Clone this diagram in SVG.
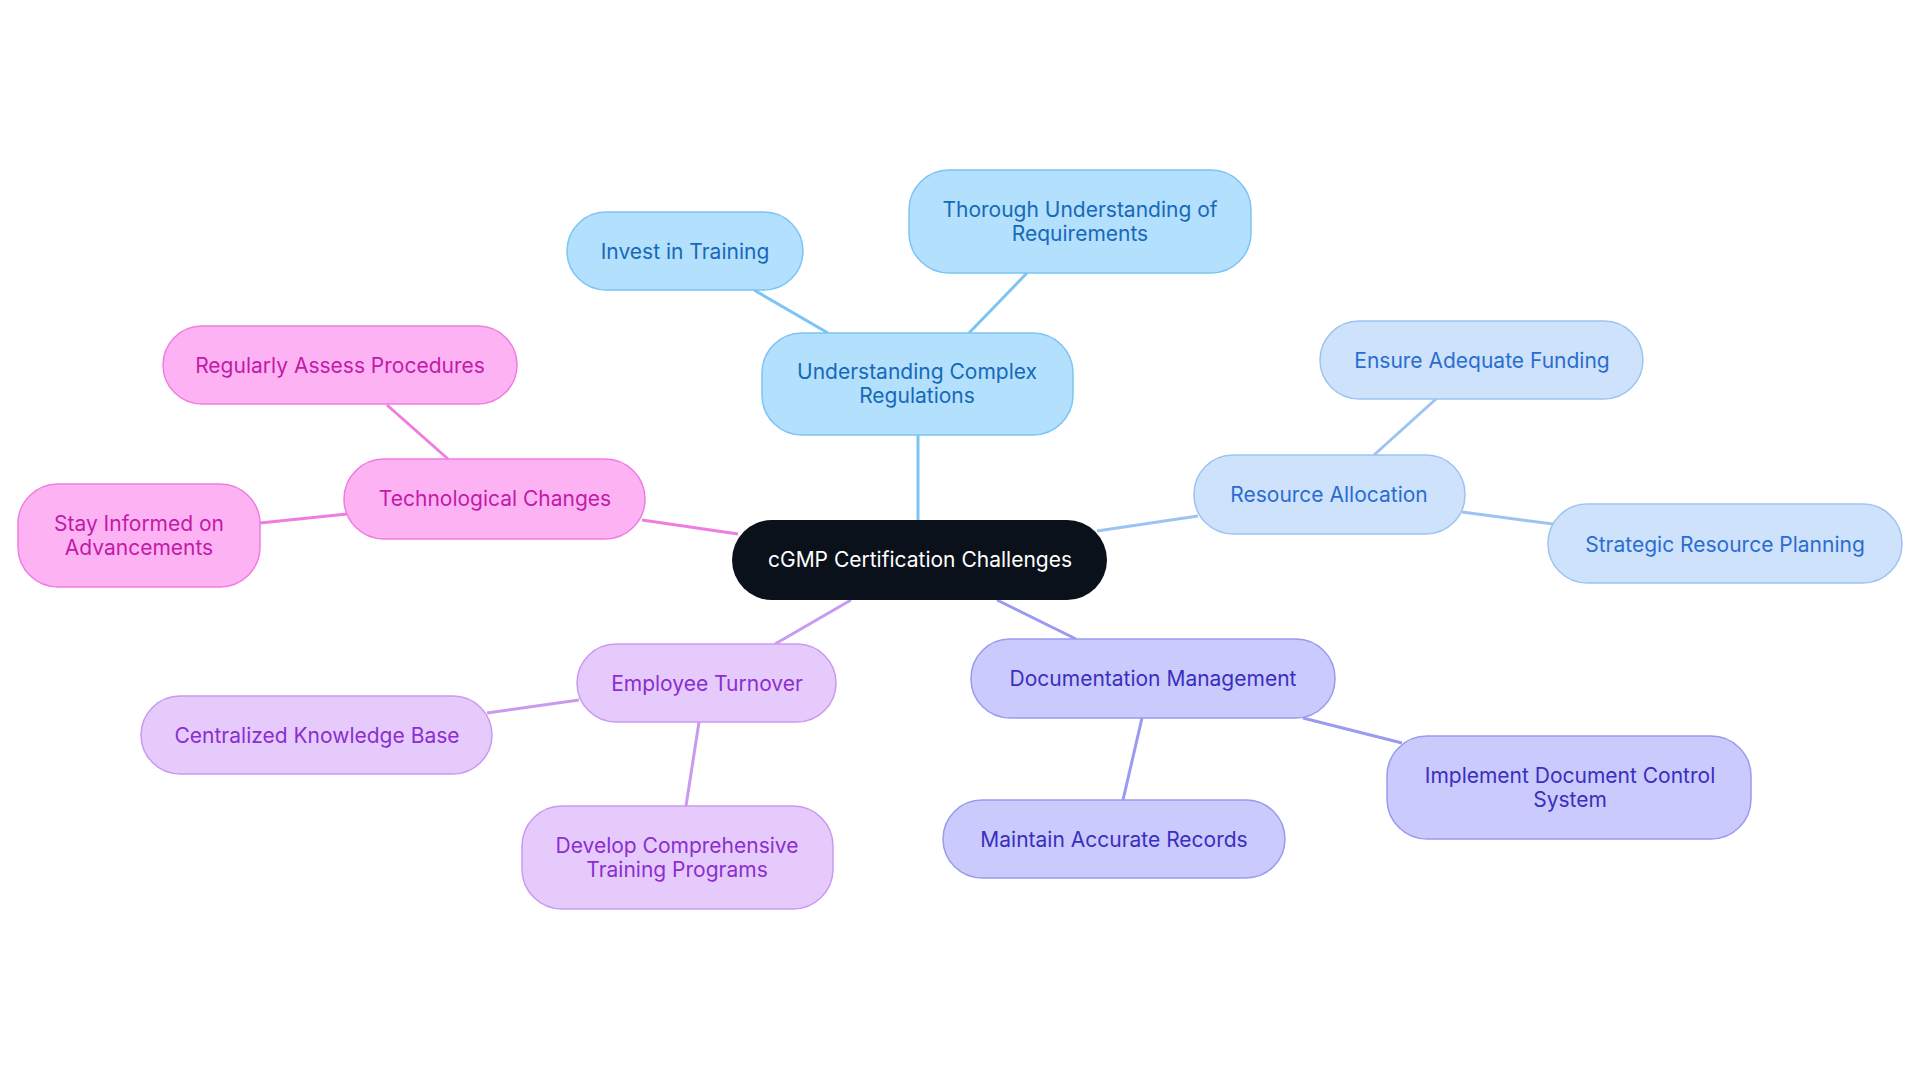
<svg xmlns="http://www.w3.org/2000/svg" width="1920" height="1083" viewBox="0 0 1920 1083">
<style>
text{font-family:Inter,"Noto Sans",sans-serif;font-size:21px;text-anchor:middle;dominant-baseline:central}
.b rect{fill:#b3e0fd;stroke:#7cc4f4;stroke-width:1.5}.b text{fill:#1769b8}
.r rect{fill:#cfe2fb;stroke:#9dc3f3;stroke-width:1.5}.r text{fill:#2a6dd0}
.d rect{fill:#cacafc;stroke:#9a9af0;stroke-width:1.5}.d text{fill:#3a2ec0}
.e rect{fill:#e6cafc;stroke:#c99af0;stroke-width:1.5}.e text{fill:#8a2ed0}
.t rect{fill:#fdb3f3;stroke:#f07ce0;stroke-width:1.5}.t text{fill:#c21aa8}
#edges line{stroke-width:3}
</style>
<rect width="1920" height="1083" fill="#fff"/>
<g id="edges">
<line x1="918" y1="520" x2="918" y2="435" stroke="#7cc4f4"/>
<line x1="828" y1="333" x2="754" y2="290" stroke="#7cc4f4"/>
<line x1="969" y1="333" x2="1027" y2="273" stroke="#7cc4f4"/>
<line x1="1097" y1="531" x2="1198" y2="516" stroke="#9dc3f3"/>
<line x1="1374" y1="455" x2="1436" y2="399" stroke="#9dc3f3"/>
<line x1="1462" y1="512" x2="1553" y2="524" stroke="#9dc3f3"/>
<line x1="997" y1="600" x2="1076" y2="639" stroke="#9a9af0"/>
<line x1="1142" y1="718" x2="1123" y2="800" stroke="#9a9af0"/>
<line x1="1303" y1="718" x2="1402" y2="743" stroke="#9a9af0"/>
<line x1="851" y1="600" x2="775" y2="644" stroke="#c99af0"/>
<line x1="579" y1="700" x2="487" y2="713" stroke="#c99af0"/>
<line x1="699" y1="722" x2="686" y2="806" stroke="#c99af0"/>
<line x1="738" y1="534" x2="642" y2="520" stroke="#f07ce0"/>
<line x1="448" y1="459" x2="387" y2="405" stroke="#f07ce0"/>
<line x1="347" y1="514" x2="260" y2="523" stroke="#f07ce0"/>
</g>
<g id="center"><rect x="732" y="520" width="375" height="80" rx="40" fill="#0b111b"/><text x="920" y="559" fill="#fff">cGMP Certification Challenges</text></g>
<g id="ucr" class="b"><rect x="762" y="333" width="311" height="102" rx="40"/><text x="917" y="371">Understanding Complex</text><text x="917" y="395">Regulations</text></g>
<g id="invest" class="b"><rect x="567" y="212" width="236" height="78" rx="39"/><text x="685" y="251">Invest in Training</text></g>
<g id="thorough" class="b"><rect x="909" y="170" width="342" height="103" rx="40"/><text x="1080" y="209">Thorough Understanding of</text><text x="1080" y="233">Requirements</text></g>
<g id="ra" class="r"><rect x="1194" y="455" width="271" height="79" rx="39"/><text x="1329" y="494">Resource Allocation</text></g>
<g id="funding" class="r"><rect x="1320" y="321" width="323" height="78" rx="39"/><text x="1482" y="360">Ensure Adequate Funding</text></g>
<g id="strategic" class="r"><rect x="1548" y="504" width="354" height="79" rx="39"/><text x="1725" y="544">Strategic Resource Planning</text></g>
<g id="doc" class="d"><rect x="971" y="639" width="364" height="79" rx="39"/><text x="1153" y="678">Documentation Management</text></g>
<g id="maintain" class="d"><rect x="943" y="800" width="342" height="78" rx="39"/><text x="1114" y="839">Maintain Accurate Records</text></g>
<g id="implement" class="d"><rect x="1387" y="736" width="364" height="103" rx="40"/><text x="1570" y="775">Implement Document Control</text><text x="1570" y="799">System</text></g>
<g id="emp" class="e"><rect x="577" y="644" width="259" height="78" rx="39"/><text x="707" y="683">Employee Turnover</text></g>
<g id="central" class="e"><rect x="141" y="696" width="351" height="78" rx="39"/><text x="317" y="735">Centralized Knowledge Base</text></g>
<g id="develop" class="e"><rect x="522" y="806" width="311" height="103" rx="40"/><text x="677" y="845">Develop Comprehensive</text><text x="677" y="869">Training Programs</text></g>
<g id="tech" class="t"><rect x="344" y="459" width="301" height="80" rx="40"/><text x="495" y="498">Technological Changes</text></g>
<g id="regular" class="t"><rect x="163" y="326" width="354" height="78" rx="39"/><text x="340" y="365">Regularly Assess Procedures</text></g>
<g id="stay" class="t"><rect x="18" y="484" width="242" height="103" rx="40"/><text x="139" y="523">Stay Informed on</text><text x="139" y="547">Advancements</text></g>
</svg>
